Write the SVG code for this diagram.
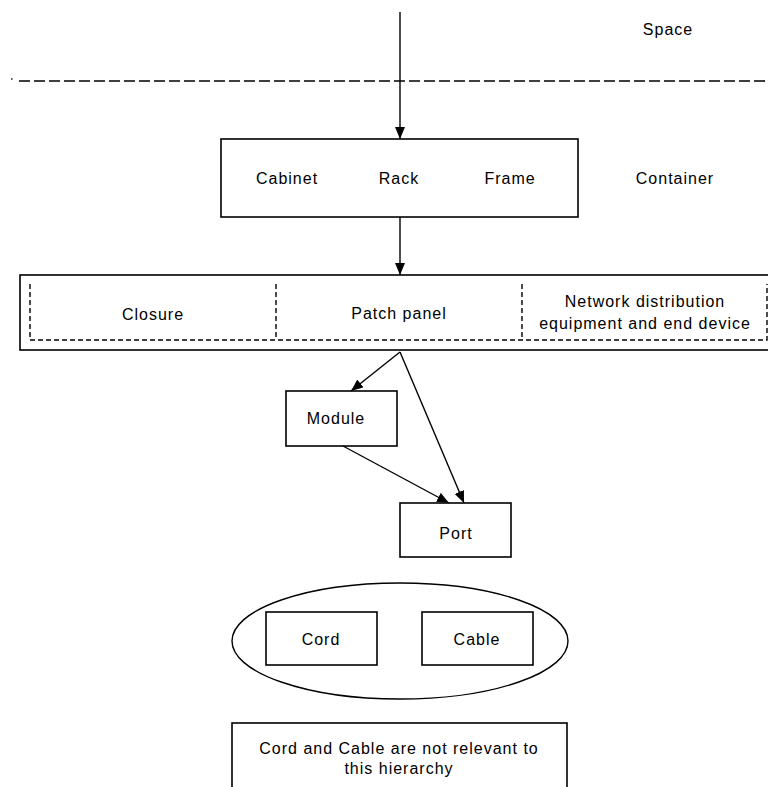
<svg xmlns="http://www.w3.org/2000/svg" width="768" height="787" viewBox="0 0 768 787">
<style>
text{font-family:"Liberation Sans",Arial,sans-serif;font-size:16px;letter-spacing:1px;fill:#000;text-anchor:middle}
.box{fill:#fff;stroke:#000;stroke-width:1.6}
.dash{fill:none;stroke:#000;stroke-width:1.4;stroke-dasharray:5 3}
.conn{fill:none;stroke:#000;stroke-width:1.4}
</style>
<defs>
<marker id="ah" viewBox="0 0 12 10" refX="12" refY="5" markerWidth="12" markerHeight="10" markerUnits="userSpaceOnUse" orient="auto">
<path d="M0,0 L12,5 L0,10 Z" fill="#000"/>
</marker>
</defs>
<g id="space">
<line x1="19" y1="81" x2="768" y2="81" stroke="#000" stroke-width="1.6" stroke-dasharray="11 4"/>
<rect x="11" y="78" width="1.5" height="2" fill="#555"/>
<text x="668" y="35">Space</text>
</g>
<g id="container">
<rect class="box" x="221" y="139" width="357" height="78"/>
<text x="287" y="184">Cabinet</text>
<text x="399" y="184">Rack</text>
<text x="510" y="184">Frame</text>
<text x="675" y="184">Container</text>
</g>
<g id="equipment">
<rect class="box" x="20" y="275" width="760" height="75"/>
<path class="dash" d="M30,284 V340 H767 V284"/>
<line class="dash" x1="276" y1="284" x2="276" y2="340"/>
<line class="dash" x1="522" y1="284" x2="522" y2="340"/>
<text x="153" y="320">Closure</text>
<text x="399" y="319">Patch panel</text>
<text x="645" y="307">Network distribution</text>
<text x="645" y="329">equipment and end device</text>
</g>
<g id="module">
<rect class="box" x="286" y="391" width="111" height="55"/>
<text x="336" y="424">Module</text>
</g>
<g id="port">
<rect class="box" x="400" y="503" width="111" height="54"/>
<text x="456" y="539">Port</text>
</g>
<g id="cords">
<ellipse cx="400" cy="641" rx="168" ry="58" fill="none" stroke="#000" stroke-width="1.4"/>
<rect class="box" x="266" y="612" width="111" height="53"/>
<rect class="box" x="422" y="612" width="111" height="53"/>
<text x="321" y="645">Cord</text>
<text x="477" y="645">Cable</text>
</g>
<g id="note">
<rect class="box" x="232" y="723" width="335" height="80"/>
<text x="399" y="754">Cord and Cable are not relevant to</text>
<text x="399" y="774">this hierarchy</text>
</g>
<g id="connectors">
<line class="conn" x1="400" y1="12" x2="400" y2="139" marker-end="url(#ah)"/>
<line class="conn" x1="400" y1="217" x2="400" y2="275" marker-end="url(#ah)"/>
<line class="conn" x1="400" y1="352" x2="351" y2="391" marker-end="url(#ah)"/>
<line class="conn" x1="400" y1="352" x2="464" y2="503" marker-end="url(#ah)"/>
<line class="conn" x1="343" y1="446" x2="449" y2="503" marker-end="url(#ah)"/>
</g>
</svg>
